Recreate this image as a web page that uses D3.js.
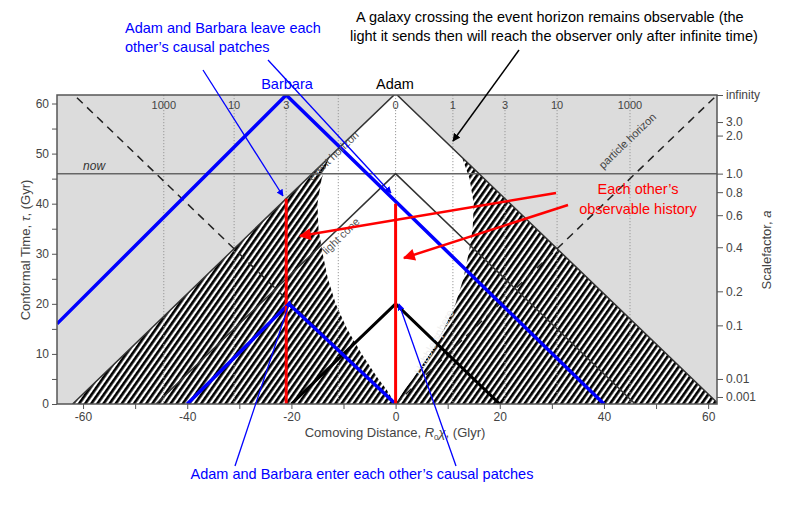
<!DOCTYPE html>
<html><head><meta charset="utf-8">
<script src="https://cdn.jsdelivr.net/npm/d3@7"></script>
<style>
body{margin:0;background:#fff;font-family:Arial,"Liberation Sans",sans-serif}
</style></head>
<body><svg id="c" width="800" height="531"></svg>
<script>
// data (comoving distance Glyr, conformal time Gyr)
const tauMax = 61.7;
const hubbleSphere = [[0,0],[1.8,3],[3.3,5],[6.5,10],[9.3,15],[11.5,20],[13,25],[14,30],[14.8,35],[15,40],[14.2,45],[12.5,50],[10,52.5]];
const redshiftX = [-44.5,-31,-21,-11,0,11,21,31,45];
const redshiftLabels = ["1000","10","3","","0","1","3","10","1000"];
const scaleTau = [61.7,56.3,53.6,46,42.3,37.7,31.3,22.5,15.7,5,1.4];
const scaleLabels = ["infinity","3.0","2.0","1.0","0.8","0.6","0.4","0.2","0.1","0.01","0.001"];
const eventHorizon = [[-62,0],[0,62],[62,0]];
const lightCone = [[-46,0],[0,46],[46,0]];
const pastCone = [[-20,0],[0,20],[20,0]];
const particleLeft = [[0,0],[-62,62]];
const particleRight = [[0,0],[61.7,61.7]];
const barbaraBig = [[-65,16],[-21,61.7],[40,0]];
const barbaraSmall = [[-40,0],[-20.5,20],[0,0]];
const barbaraWorld = [[-21,0],[-21,41]];
const adamWorld = [[0,0],[0,40]];

const svg = d3.select("#c");
const x = d3.scaleLinear([-65,61.7],[57,717]);
const y = d3.scaleLinear([0,tauMax],[404,95]);
const line = d3.line(d=>x(d[0]),d=>y(d[1]));

const defs = svg.append("defs");
const pat = defs.append("pattern").attr("id","hatch").attr("patternUnits","userSpaceOnUse")
  .attr("width",5).attr("height",10).attr("patternTransform","rotate(35)");
pat.append("rect").attr("width",5).attr("height",10).attr("fill","#fff");
pat.append("rect").attr("width",2.7).attr("height",10).attr("fill","#000");
defs.append("clipPath").attr("id","plot").append("rect")
  .attr("x",57).attr("y",95).attr("width",660).attr("height",309);
defs.append("clipPath").attr("id","tri").append("path").attr("d",line(eventHorizon)+"Z");
[["blue","#0000ff",7,7],["red","#ff0000",16,12],["black","#000",8,8]].forEach(([k,c,w,h])=>{
  defs.append("marker").attr("id","m-"+k).attr("viewBox","0 0 10 10").attr("refX",9).attr("refY",5)
    .attr("markerWidth",w).attr("markerHeight",h).attr("markerUnits","userSpaceOnUse")
    .attr("orient","auto").append("path").attr("d","M0,0L10,5L0,10Z").attr("fill",c);
});

svg.append("rect").attr("x",57).attr("y",95).attr("width",660).attr("height",309).attr("fill","#dcdcdc");
const g = svg.append("g").attr("clip-path","url(#plot)");
g.append("path").attr("d",line(eventHorizon)+"Z").attr("fill","url(#hatch)");
// white region inside Hubble sphere and above its meeting with the event horizon
const right = hubbleSphere.concat([[12,62],[0,62],[-12,62]]);
const left = hubbleSphere.slice().reverse().map(d=>[-d[0],d[1]]);
g.append("g").attr("clip-path","url(#tri)").append("path")
  .attr("d",line(right.concat(left))+"Z").attr("fill","#fff");

redshiftX.forEach(v=>g.append("line").attr("x1",x(v)).attr("x2",x(v)).attr("y1",95).attr("y2",404)
  .attr("stroke","#999").attr("stroke-dasharray","1.2,1.8").attr("stroke-width",1));
g.append("line").attr("x1",57).attr("x2",717).attr("y1",y(46)).attr("y2",y(46)).attr("stroke","#666").attr("stroke-width",1.5);

const thin = (d,w,c,dash)=>g.append("path").attr("d",line(d)).attr("fill","none").attr("stroke",c).attr("stroke-width",w).attr("stroke-dasharray",dash||null);
thin(eventHorizon,1.5,"#333");
thin(lightCone,1.5,"#333");
thin(particleLeft,1.5,"#222","8,6");
thin(particleRight,1.5,"#222","8,6");
thin(pastCone,3,"#000");
thin(barbaraBig,3.5,"#0000ff");
thin(barbaraSmall,3.5,"#0000ff");
thin(barbaraWorld,3,"#ff0000");
thin(adamWorld,3,"#ff0000");

// labels along lines
const lab = (t,px,py,a,col)=>g.append("text").attr("transform",`translate(${px},${py}) rotate(${a})`)
  .attr("font-size",11).attr("fill",col||"#555").attr("text-anchor","middle").text(t);
lab("event horizon",x(-11.5),y(49),-44);
lab("light cone",x(-10),y(33),-44);
lab("particle horizon",x(45),y(52),-44,"#444");
lab("Hubble sphere",x(8),y(12),-62,"#eee");
g.append("text").attr("x",x(-60)).attr("y",y(46)-4).attr("font-size",12).attr("font-style","italic").attr("fill","#333").text("now");
redshiftX.forEach((v,i)=>g.append("text").attr("x",x(v)).attr("y",109).attr("text-anchor","middle")
  .attr("font-size",11).attr("fill","#444").text(redshiftLabels[i]));

// frame and axes
svg.append("rect").attr("x",57).attr("y",95).attr("width",660).attr("height",309).attr("fill","none").attr("stroke","#555").attr("stroke-width",1.5);
const styleAxis = s=>{s.select(".domain").remove();s.selectAll("line").attr("stroke","#555");s.selectAll("text").attr("fill","#444").attr("font-size",12);};
svg.append("g").attr("transform","translate(0,404)").call(d3.axisBottom(x).tickValues(d3.range(-60,61,10)).tickSize(5).tickFormat(d=>d%20?"":d)).call(styleAxis);
svg.append("g").attr("transform","translate(57,0)").call(d3.axisLeft(y).tickValues(d3.range(0,61,5)).tickSize(5).tickFormat(d=>d%10?"":d)).call(styleAxis);
svg.append("g").attr("transform","translate(717,0)").call(d3.axisRight(y).tickValues(scaleTau).tickSize(6).tickFormat((d,i)=>scaleLabels[i])).call(styleAxis);

svg.append("text").attr("x",395).attr("y",437).attr("text-anchor","middle").attr("font-size",13).attr("fill","#444")
  .html('Comoving Distance, <tspan font-style="italic">R</tspan><tspan font-size="8" dy="3">0</tspan><tspan dy="-3" font-style="italic">χ</tspan>, (Glyr)');
svg.append("text").attr("transform","translate(30,250) rotate(-90)").attr("text-anchor","middle").attr("font-size",13).attr("fill","#444")
  .html('Conformal Time, <tspan font-style="italic">τ</tspan>, (Gyr)');
svg.append("text").attr("transform","translate(771,250) rotate(-90)").attr("text-anchor","middle").attr("font-size",13).attr("fill","#444")
  .html('Scalefactor, <tspan font-style="italic">a</tspan>');

// annotations
const txt = (t,px,py,col,anchor)=>svg.append("text").attr("x",px).attr("y",py).attr("fill",col).attr("font-size",14.5).attr("text-anchor",anchor||"start").text(t);
txt("Barbara",287,89,"#0000ff","middle");
txt("Adam",395,89,"#000","middle");
txt("Adam and Barbara leave each",125,33,"#0000ff");
txt("other’s causal patches",125,52,"#0000ff");
txt("A galaxy crossing the event horizon remains observable (the",356,22,"#000");
txt("light it sends then will reach the observer only after infinite time)",350,41,"#000");
txt("Each other’s",638,194,"#ff0000","middle");
txt("observable history",638,214,"#ff0000","middle");
txt("Adam and Barbara enter each other’s causal patches",362,479,"#0000ff","middle");
const arrow = (x1,y1,x2,y2,k,w)=>svg.append("line").attr("x1",x1).attr("y1",y1).attr("x2",x2).attr("y2",y2)
  .attr("stroke",{blue:"#0000ff",red:"#ff0000",black:"#000"}[k]).attr("stroke-width",w).attr("marker-end",`url(#m-${k})`);
arrow(203,70,283,196,"blue",1.3);
arrow(268,60,391,193,"blue",1.3);
arrow(235,466,290,301,"blue",1.3);
arrow(456,466,399,304,"blue",1.3);
arrow(519,50,453,141,"black",1.5);
arrow(556,193,300,236,"red",2.5);
arrow(568,205,404,258,"red",2.5);
</script></body></html>
